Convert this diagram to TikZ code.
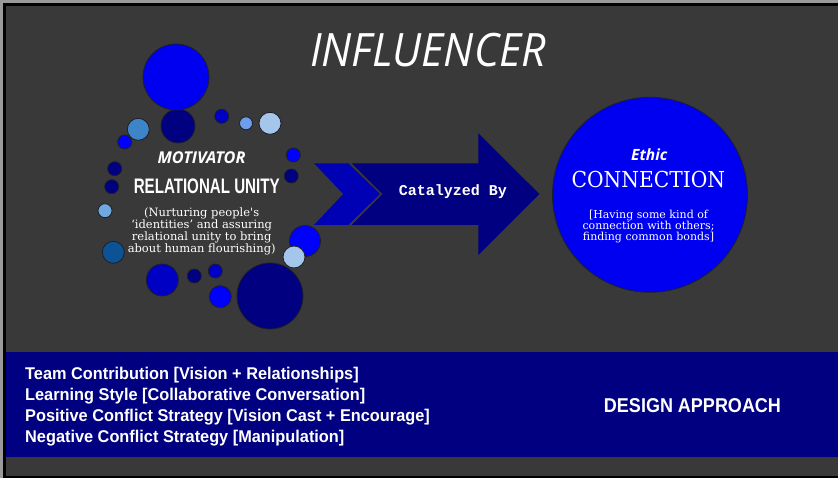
\documentclass[tikz,border=0pt]{standalone}
\usepackage{fontspec}
\setmainfont{DejaVu Serif}
\newfontfamily\titlefont[FakeStretch=0.93]{Open Sans}
\newfontfamily\headsans{Open Sans}
\newfontfamily\condfont[FakeStretch=0.72]{Liberation Sans}
\newfontfamily\bandfont[FakeStretch=0.96]{Liberation Sans}
\newfontfamily\designfont[FakeStretch=0.9]{Liberation Sans}
\newfontfamily\connfont[FakeStretch=0.92]{DejaVu Serif}
\newfontfamily\monofont{Liberation Mono}
\definecolor{bg}{HTML}{3A3939}
\definecolor{edgegray}{HTML}{9A9A9A}
\definecolor{navy}{HTML}{000080}
\definecolor{bright}{HTML}{0000F0}
\definecolor{pureblue}{HTML}{0000FF}
\definecolor{midblue}{HTML}{0000C4}
\definecolor{chev}{HTML}{0000B4}
\definecolor{lightblue}{HTML}{6D9EEB}
\definecolor{paleblue}{HTML}{A4C6EA}
\definecolor{steel}{HTML}{3D85C6}
\definecolor{skyblue}{HTML}{6FA8DC}
\definecolor{deepsteel}{HTML}{0B5394}
\definecolor{rim}{HTML}{1E1E2A}
\tikzset{
  dot/.style={draw=rim, line width=0.8pt},
  wtext/.style={text=white, inner sep=0pt, align=center},
}
\begin{document}
\begin{tikzpicture}[x=1pt,y=-1pt]
\useasboundingbox (0,0) rectangle (838,478);
% frame
\fill[edgegray] (0,0) rectangle (838,478);
\fill[black] (3,3) rectangle (838,478);
\fill[bg] (6,6) rectangle (838,475.5);
% bottom band
\fill[navy] (6,352) rectangle (838,456.7);

% title
\node[wtext, font=\titlefont\itshape\fontsize{46}{46}\selectfont] (title) at (428,50) {INFLUENCER};

% circles
\foreach \cx/\cy/\r/\c in {
  178/126/17/navy,
  176/77/33/bright,
  221.7/116.3/7/midblue,
  246/123.3/6.5/lightblue,
  270/123.3/11/paleblue,
  138.3/129.3/11/steel,
  124.7/142/7/pureblue,
  293.3/155/7/pureblue,
  291.3/176/7/navy,
  114.7/168.7/7/navy,
  111.7/186.7/7/navy,
  105/210.7/7/skyblue,
  113.3/252.3/11/deepsteel,
  305/241/15.5/pureblue,
  294/257/11/paleblue,
  162.3/280/16/midblue,
  194.3/276/7/navy,
  215.3/271/7/midblue,
  220.3/296.7/11/pureblue,
  270/296/33/navy}
  {\filldraw[dot, fill=\c] (\cx,\cy) circle[radius=\r];}

% left texts
\node[wtext, font=\headsans\bfseries\itshape\fontsize{16.3}{16.3}\selectfont] (motiv) at (201.5,158) {MOTIVATOR};
\node[wtext, font=\condfont\bfseries\fontsize{21}{21}\selectfont] (unity) at (206.7,186.7) {RELATIONAL UNITY};
\node[wtext, font=\fontsize{11.5}{12}\selectfont] (nurt) at (201.7,231) {(Nurturing people\textquotesingle s\\`identities' and assuring\\relational unity to bring\\about human flourishing)};

% arrow
\fill[chev] (314,163.3) -- (348.3,163.3) -- (380,194) -- (348.3,225) -- (314,225) -- (343.3,194) -- cycle;
\fill[navy] (351.7,163.3) -- (478.3,163.3) -- (478.3,133.3) -- (539.3,194) -- (478.3,255) -- (478.3,225) -- (351.7,225) -- (382.5,194) -- cycle;
\node[wtext, font=\monofont\bfseries\fontsize{15}{15}\selectfont] (cat) at (453,192) {Catalyzed By};

% right circle
\node[circle, draw=rim, line width=0.8pt, fill=bright, minimum size=195pt, inner sep=0pt] (ethic) at (650,194.8) {};
\node[wtext, font=\headsans\bfseries\itshape\fontsize{15.5}{15.5}\selectfont] (ethicl) at (649.3,154.3) {Ethic};
\node[wtext, font=\connfont\fontsize{22}{22}\selectfont] (conn) at (648.3,179.3) {CONNECTION};
\node[wtext, font=\fontsize{11}{11}\selectfont] (bonds) at (648.5,227) {[Having some kind of\\connection with others;\\finding common bonds]};

% band texts
\node[wtext, align=left, anchor=west, font=\bandfont\bfseries\fontsize{17}{21}\selectfont] (list) at (25,407) {Team Contribution [Vision + Relationships]\\Learning Style [Collaborative Conversation]\\Positive Conflict Strategy [Vision Cast + Encourage]\\Negative Conflict Strategy [Manipulation]};
\node[wtext, font=\designfont\bfseries\fontsize{20}{20}\selectfont] (design) at (692.5,406) {DESIGN APPROACH};
\end{tikzpicture}
\end{document}
